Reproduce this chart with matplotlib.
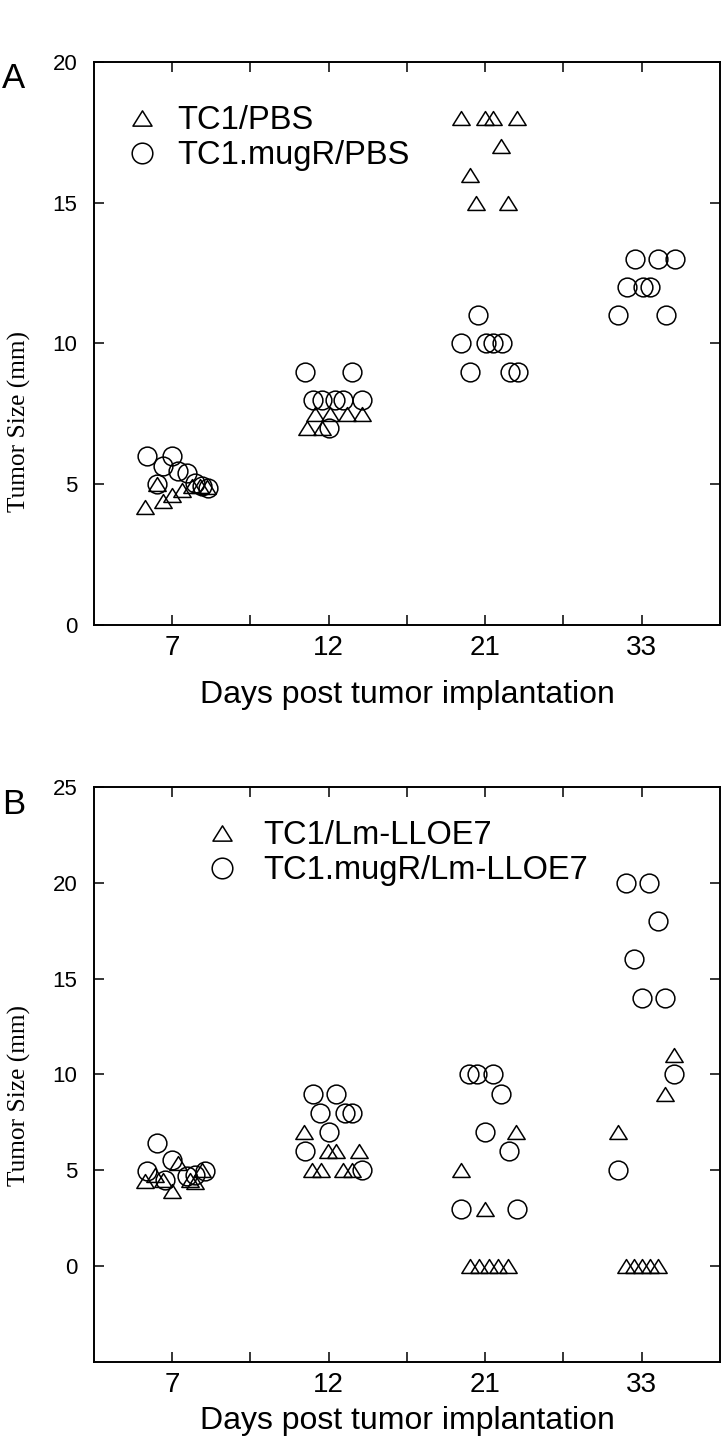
import numpy as np
import matplotlib
matplotlib.use("Agg")
import matplotlib.pyplot as plt
from matplotlib.path import Path

plt.rcParams["font.family"] = ["Liberation Sans", "DejaVu Sans"]

# x position 1,3,5,7 = days 7,12,21,33 ; values jittered around them as in the figure
day_labels = ["7", "12", "21", "33"]
day_pos = [1, 3, 5, 7]

# Panel A: TC1/PBS (triangles)
a_tri_x = [0.651, 0.801, 0.885, 0.992, 1.120, 1.248, 1.354, 1.439,
           2.716, 2.908, 2.822, 3.014, 3.227, 3.419,
           4.696, 4.994, 5.100, 5.406, 5.207, 4.802, 4.888, 5.291]
a_tri_y = [4.2, 5.0, 4.4, 4.6, 4.8, 4.95, 4.95, 4.9,
           7.0, 7.0, 7.5, 7.5, 7.5, 7.5,
           18, 18, 18, 18, 17, 16, 15, 15]
# Panel A: TC1.mugR/PBS (circles)
a_circ_x = [0.673, 0.992, 0.885, 1.077, 1.184, 0.801, 1.290, 1.375, 1.460,
            2.695, 3.291, 2.801, 2.908, 3.078, 3.184, 3.419, 3.005,
            4.908, 4.696, 5.006, 5.100, 5.220, 4.811, 5.313, 5.419,
            6.909, 7.207, 7.420, 6.816, 7.015, 7.101, 6.696, 7.305]
a_circ_y = [6.0, 6.0, 5.65, 5.47, 5.4, 5.0, 5.05, 4.94, 4.88,
            9, 9, 8, 8, 8, 8, 8, 7,
            11, 10, 10, 10, 10, 9, 9, 9,
            13, 13, 13, 12, 12, 12, 11, 11]

# Panel B: TC1/Lm-LLOE7 (triangles)
b_tri_x = [0.651, 0.779, 0.992, 1.077, 0.885, 1.226, 1.375, 1.290,
           2.686, 2.985, 3.087, 3.388, 2.792, 2.895, 3.184, 3.291,
           5.398, 4.687, 5.003, 4.802, 4.923, 5.045, 5.166, 5.287,
           7.407, 7.292, 6.692, 6.794, 6.897, 6.999, 7.101, 7.203]
b_tri_y = [4.43, 4.78, 3.9, 5.4, 4.5, 4.5, 5.0, 4.4,
           7, 6, 6, 6, 5, 5, 5, 5,
           7, 5, 3, 0, 0, 0, 0, 0,
           11, 9, 7, 0, 0, 0, 0, 0]
# Panel B: TC1.mugR/Lm-LLOE7 (circles)
b_circ_x = [0.801, 0.992, 0.673, 0.907, 1.184, 1.290, 1.418,
            2.801, 3.091, 2.886, 3.206, 3.291, 3.005, 2.695, 3.419,
            4.793, 4.895, 5.100, 5.198, 5.003, 5.300, 4.687, 5.411,
            6.803, 7.092, 7.207, 6.897, 7.007, 7.301, 7.411, 6.692]
b_circ_y = [6.44, 5.56, 4.95, 4.5, 4.7, 4.78, 4.95,
            9, 9, 8, 8, 8, 7, 6, 5,
            10, 10, 10, 9, 7, 6, 3, 3,
            20, 20, 18, 16, 14, 14, 10, 5]

tri_marker = Path([(0, 0.8), (-1, -0.8), (1, -0.8), (0, 0.8)], closed=True)
marker_kw = dict(linestyle="none", mfc="none", mec="black", mew=1.1)


def style_axes(ax, ylim, yticks, labelpad):
    ax.set_xlim(0, 8)
    ax.set_ylim(*ylim)
    ax.set_xticks(day_pos, labels=day_labels)
    ax.set_xticks([2, 4, 6], minor=True)
    ax.set_yticks(yticks)
    ax.tick_params(which="both", direction="in", top=True, right=True,
                   length=7, width=1.1, color="black")
    ax.tick_params(axis="x", labelsize=20, pad=7)
    ax.tick_params(axis="y", labelsize=16, pad=12)
    for sp in ax.spines.values():
        sp.set_linewidth(1.4)
    ax.set_xlabel("Days post tumor implantation", fontsize=23, labelpad=labelpad)
    ax.set_ylabel("Tumor Size (mm)", fontsize=18.3, family="Liberation Serif")


fig = plt.figure(figsize=(7.22, 14.53), dpi=100)

# panel A
axA = fig.add_axes([0.1302, 0.5699, 0.867, 0.3874])
hA1, = axA.plot(a_tri_x, a_tri_y, marker=tri_marker, ms=12.5, **marker_kw)
hA2, = axA.plot(a_circ_x, a_circ_y, marker="o", ms=13.5, **marker_kw)
style_axes(axA, (0, 20), [0, 5, 10, 15, 20], 14)
axA.yaxis.set_label_coords(-0.100, 0.362)
axA.legend([hA1, hA2], ["TC1/PBS", "TC1.mugR/PBS"], loc="upper left",
           bbox_to_anchor=(0.051, 0.923), frameon=False, borderpad=0,
           borderaxespad=0, handlelength=1.0, handletextpad=0.56,
           labelspacing=0.12, numpoints=1, fontsize=23.5, markerscale=1.1)

# panel B
axB = fig.add_axes([0.1302, 0.0626, 0.867, 0.3958])
hB1, = axB.plot(b_tri_x, b_tri_y, marker=tri_marker, ms=12.5, **marker_kw)
hB2, = axB.plot(b_circ_x, b_circ_y, marker="o", ms=13.5, **marker_kw)
style_axes(axB, (-5, 25), [0, 5, 10, 15, 20, 25], 6)
axB.yaxis.set_label_coords(-0.100, 0.464)
axB.legend([hB1, hB2], ["TC1/Lm-LLOE7", "TC1.mugR/Lm-LLOE7"], loc="upper left",
           bbox_to_anchor=(0.179, 0.942), frameon=False, borderpad=0,
           borderaxespad=0, handlelength=1.0, handletextpad=0.74,
           labelspacing=0.12, numpoints=1, fontsize=23.5, markerscale=1.1)

fig.text(0.003, 0.9573, "A", fontsize=25, va="top", ha="left")
fig.text(0.003, 0.4577, "B", fontsize=25, va="top", ha="left")

fig.savefig("out.png", dpi=100)
